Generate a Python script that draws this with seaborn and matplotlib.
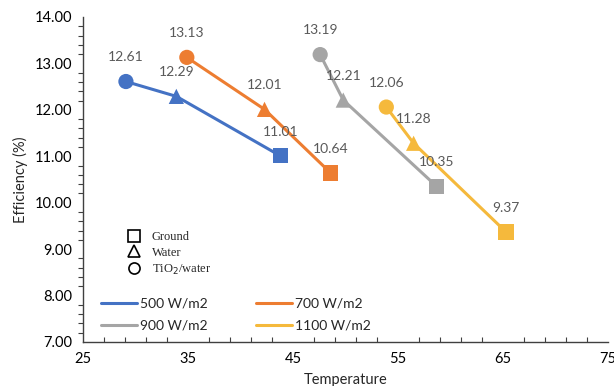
import pandas as pd
import seaborn as sns
import matplotlib.pyplot as plt
from matplotlib.lines import Line2D
from matplotlib.ticker import MultipleLocator, FormatStrFormatter

# Dados
irradiancias = ['500 W/m2', '700 W/m2', '900 W/m2', '1100 W/m2']
resfriamento = ['TiO2/water', 'Water', 'Ground']
temp_500 = [29.1, 33.9, 43.8]
temp_700 = [34.9, 42.3, 48.6]
temp_900 = [47.6, 49.8, 58.7]
temp_1100 = [53.9, 56.5, 65.3]
ef_500 = [12.61, 12.29, 11.01]
ef_700 = [13.13, 12.01, 10.64]
ef_900 = [13.19, 12.21, 10.35]
ef_1100 = [12.06, 11.28, 9.37]
cores = ['#4472C4', '#ED7D31', '#A5A5A5', '#F5B93C']

temps = [temp_500, temp_700, temp_900, temp_1100]
efs = [ef_500, ef_700, ef_900, ef_1100]
linhas = []
for irr, t, e in zip(irradiancias, temps, efs):
    for tipo, ti, ei in zip(resfriamento, t, e):
        linhas.append({'Irradiancia': irr, 'Tipo': tipo, 'Temperature': ti, 'Efficiency': ei})
df = pd.DataFrame(linhas)

sns.set_style('white')
plt.rcParams['font.family'] = ['Lato', 'DejaVu Sans']

fig = plt.figure(figsize=(6.14, 3.86), dpi=100)
ax = fig.add_axes([0.135, 0.114, 0.855, 0.842])
paleta = dict(zip(irradiancias, cores))

sns.lineplot(data=df, x='Temperature', y='Efficiency', hue='Irradiancia', palette=paleta,
             estimator=None, errorbar=None, linewidth=2.2, ax=ax, legend=True)
sns.scatterplot(data=df, x='Temperature', y='Efficiency', hue='Irradiancia', style='Tipo',
                palette=paleta, markers={'Ground': 's', 'Water': '^', 'TiO2/water': 'o'},
                s=120, linewidth=0, alpha=1, ax=ax, legend=False, zorder=3)

# Rótulos de dados
for _, r in df.iterrows():
    ax.annotate(f"{r['Efficiency']:.2f}", (r['Temperature'], r['Efficiency']),
                xytext=(0, 17.5), textcoords='offset points', ha='center', va='center',
                fontsize=10, color='#595959')

ax.set_xlim(25, 75)
ax.set_ylim(7, 14)
ax.xaxis.set_major_locator(MultipleLocator(10, offset=5))
ax.xaxis.set_minor_locator(MultipleLocator(2, offset=1))
ax.yaxis.set_major_locator(MultipleLocator(1))
ax.yaxis.set_minor_locator(MultipleLocator(0.2))
ax.yaxis.set_major_formatter(FormatStrFormatter('%.2f'))
ax.tick_params(axis='both', which='major', direction='inout', length=7, width=1,
               labelsize=10.5, colors='#404040', labelcolor='black')
ax.tick_params(axis='both', which='minor', direction='out', length=3.5, width=0.8, colors='#404040')
ax.tick_params(axis='y', which='major', pad=4)
ax.tick_params(axis='y', which='minor', left=True)
ax.tick_params(axis='x', which='minor', bottom=True, direction='in')
ax.tick_params(axis='x', which='major', pad=4)
for lado in ['top', 'right']:
    ax.spines[lado].set_visible(False)
for lado in ['left', 'bottom']:
    ax.spines[lado].set_color('#404040')
    ax.spines[lado].set_linewidth(1)
ax.set_xlabel('Temperature', fontsize=10.5, labelpad=5)
ax.set_ylabel('Efficiency (%)', fontsize=10.5, labelpad=5)

# Legenda das linhas (ordem por linhas: 500, 700 / 900, 1100)
handles, labels = ax.get_legend_handles_labels()
ordem = [0, 2, 1, 3]
leg1 = ax.legend([handles[i] for i in ordem], [labels[i] for i in ordem], ncol=2, loc='upper left',
                 bbox_to_anchor=(101 / 614, 1 - 298 / 386), bbox_transform=fig.transFigure,
                 frameon=False, fontsize=10, handlelength=2.6, handletextpad=0.2,
                 columnspacing=3.5, labelspacing=0.7, borderpad=0, borderaxespad=0)
ax.add_artist(leg1)

# Legenda dos marcadores
marcas = [Line2D([], [], marker='s', ls='none', mfc='none', mec='black', mew=1.2, ms=8),
          Line2D([], [], marker='^', ls='none', mfc='none', mec='black', mew=1.2, ms=8),
          Line2D([], [], marker='o', ls='none', mfc='none', mec='black', mew=1.2, ms=8)]
leg2 = ax.legend(marcas, ['Ground', 'Water', 'TiO$_2$/water'], loc='upper left',
                 bbox_to_anchor=(128 / 614, 1 - 231 / 386), bbox_transform=fig.transFigure,
                 frameon=False, handlelength=1, handletextpad=0.9, labelspacing=0.3,
                 borderpad=0, borderaxespad=0, prop={'family': 'Liberation Serif', 'size': 9})

fig.savefig('out.png', dpi=100)
